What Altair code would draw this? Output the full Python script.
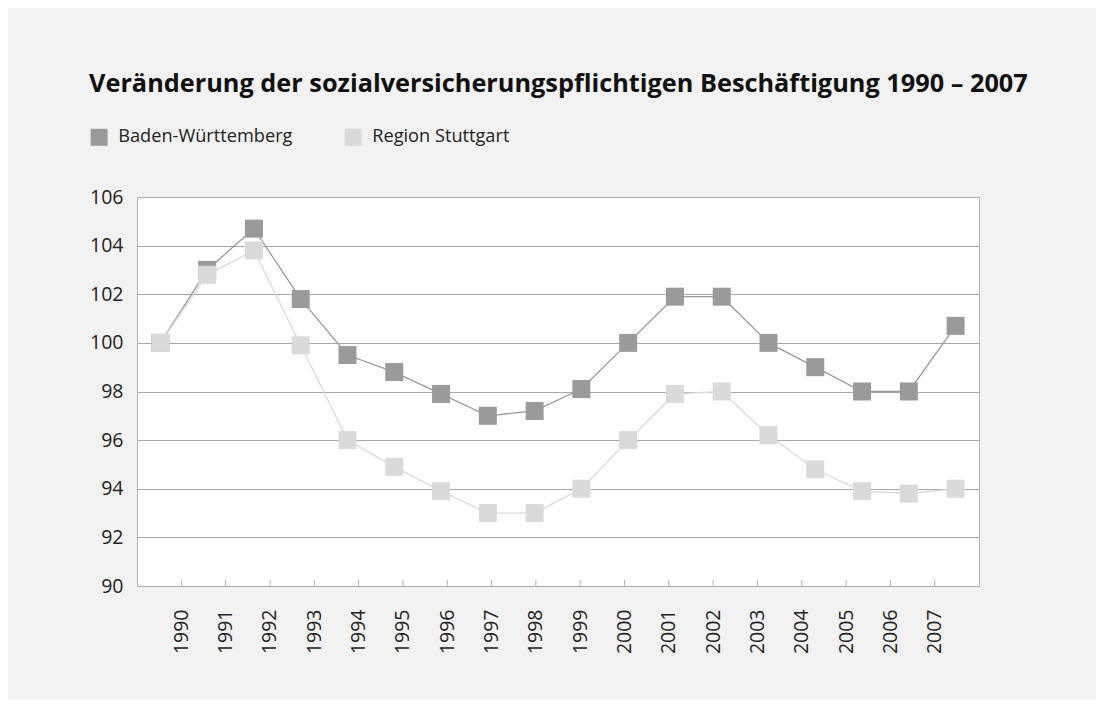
import altair as alt
import pandas as pd

years = [str(y) for y in range(1990, 2008)]
bw = [100.0, 103.0, 104.7, 101.8, 99.5, 98.8, 97.9, 97.0, 97.2, 98.1,
      100.0, 101.9, 101.9, 100.0, 99.0, 98.0, 98.0, 100.7]
rs = [100.0, 102.8, 103.8, 99.9, 96.0, 94.9, 93.9, 93.0, 93.0, 94.0,
      96.0, 97.9, 98.0, 96.2, 94.8, 93.9, 93.8, 94.0]
series_names = ["Baden-Württemberg", "Region Stuttgart"]
series_colors = ["#9a9a9a", "#dadada"]
y_ticks = [90, 92, 94, 96, 98, 100, 102, 104, 106]

rows = []
for name, vals in zip(series_names, [bw, rs]):
    for y, v in zip(years, vals):
        rows.append({"Jahr": y, "Reihe": name, "Wert": v})
df = pd.DataFrame(rows)
df_years = pd.DataFrame({"Jahr": years})

FONT = "Open Sans"
W, H = 842, 389

color = alt.Color(
    "Reihe:N",
    scale=alt.Scale(domain=series_names, range=series_colors),
    legend=alt.Legend(
        title=None, orient="none", legendX=-47, legendY=-69,
        direction="horizontal", symbolType="square", symbolSize=289,
        symbolStrokeWidth=0, labelFontSize=18.2, labelFont=FONT,
        labelColor="#222222", columnPadding=51, labelOffset=10, labelLimit=400,
    ),
)

x_pts = alt.X("Jahr:O", scale=alt.Scale(type="point", padding=0.5), axis=None)
y_enc = alt.Y(
    "Wert:Q",
    scale=alt.Scale(domain=[90, 106], nice=False, zero=False),
    axis=alt.Axis(values=y_ticks, title=None, grid=True, gridColor="#a8a8a8",
                  gridWidth=1, ticks=False, domain=False, labelFontSize=19.5,
                  labelFont=FONT, labelColor="#222222", labelPadding=14),
)

lines = alt.Chart(df).mark_line(strokeWidth=1.3).encode(
    x=x_pts, y=y_enc, color=color, detail="Reihe:N"
)
points = alt.Chart(df).mark_point(shape="square", filled=True, size=324, opacity=1).encode(
    x=x_pts, y=y_enc, color=color
)

ticks = alt.Chart(df_years).mark_rule(color="#b0b0b0", strokeWidth=1).encode(
    x=alt.X("Jahr:O", scale=alt.Scale(type="point", padding=1),
            axis=alt.Axis(orient="bottom", title=None, labelAngle=-90, ticks=False,
                          domain=False, labelFontSize=19.5, labelFont=FONT,
                          labelColor="#222222", labelPadding=23)),
    y=alt.value(H - 6),
    y2=alt.value(H),
)

chart = alt.layer(lines, points, ticks).resolve_scale(x="independent").properties(
    width=W,
    height=H,
    title=alt.TitleParams(
        "Veränderung der sozialversicherungspflichtigen Beschäftigung 1990 – 2007",
        anchor="start", frame="group", dx=-48, fontSize=25.3, font=FONT,
        fontWeight="bold", color="#111111", offset=31,
    ),
    padding={"left": 129, "top": 189, "right": 117, "bottom": 113},
    autosize=alt.AutoSizeParams(type="none"),
).configure(background="#f2f2f2").configure_view(fill="white", stroke="#b4b4b4", strokeWidth=1)

chart.save("out.html", embed_options={"renderer": "svg", "actions": False})
